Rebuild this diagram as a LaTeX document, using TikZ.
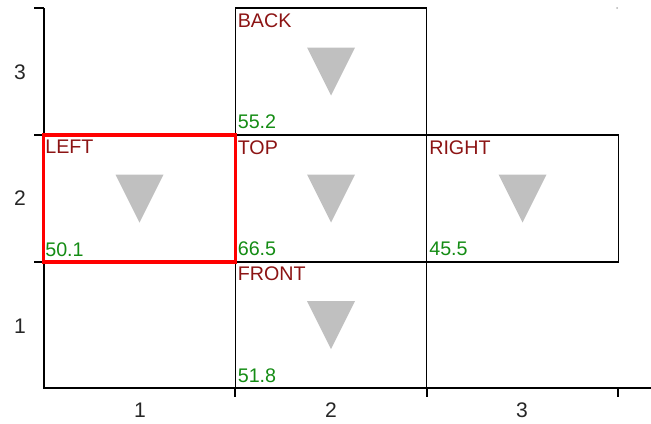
\documentclass[tikz,border=0pt]{standalone}
\usepackage{fontspec}
\setmainfont{Liberation Sans}
\usepackage{tikz}
\usetikzlibrary{calc}

\definecolor{namered}{RGB}{140,20,20}
\definecolor{valgreen}{RGB}{20,140,20}
\definecolor{markgray}{RGB}{192,192,192}

\tikzset{
  face/.style={draw=black, line width=1pt, minimum width=4.7875cm, minimum height=3.175cm, inner sep=0pt},
  facename/.style={text=namered, inner sep=0pt, anchor=north west, font=\fontsize{14}{16}\selectfont},
  faceval/.style={text=valgreen, inner sep=0pt, anchor=base west, font=\fontsize{14}{16}\selectfont},
  ticklab/.style={text=black!85, inner sep=0pt, font=\fontsize{15}{17}\selectfont},
  axis/.style={line width=1pt, black}
}

\begin{document}
\begin{tikzpicture}[x=0.025cm,y=-0.025cm]
\useasboundingbox (0,0) rectangle (651,423);
% axes
\draw[axis] (44,8) coordinate (ytop) -- (44,388) coordinate (orig) -- (651,388) coordinate (xend);
\draw[axis] (34,8) -- (ytop);
\draw[axis] (34,135) -- (44,135);
\draw[axis] (34,262) -- (44,262);
\foreach \x in {235,427,618}
  \draw[axis] (\x,388) -- (\x,397);
\fill[gray!60] (617,8) circle (1);
\node[ticklab] (x1) at (140,410) {1};
\node[ticklab] (x2) at (331,410) {2};
\node[ticklab] (x3) at (522,410) {3};
\node[ticklab] (y3) at (20,72) {3};
\node[ticklab] (y2) at (20,198) {2};
\node[ticklab] (y1) at (20,326) {1};
% faces
\node[face] (back) at (331,71.5) {};
\node[face] (top) at (331,198.5) {};
\node[face] (right) at (522.5,198.5) {};
\node[face] (front) at (331,325) {};
\node[face, draw=red, line width=2.4pt] (left) at (139.5,198.5) {};
\foreach \c in {back,left,top,right,front}
  \fill[markgray] ([shift={(-24,-24)}]\c.center) -- ([shift={(24,-24)}]\c.center) -- ([shift={(0,24)}]\c.center) -- cycle;
\node[facename] (backname) at ([shift={(3,6)}]back.north west) {BACK};
\node[facename] (leftname) at ([shift={(3,6)}]left.north west) {LEFT};
\node[facename] (topname) at ([shift={(3,6)}]top.north west) {TOP};
\node[facename] (rightname) at ([shift={(3,6)}]right.north west) {RIGHT};
\node[facename] (frontname) at ([shift={(3,6)}]front.north west) {FRONT};
\node[faceval] (backval) at ([shift={(3,-7)}]back.south west) {55.2};
\node[faceval] (leftval) at ([shift={(3,-7)}]left.south west) {50.1};
\node[faceval] (topval) at ([shift={(3,-7)}]top.south west) {66.5};
\node[faceval] (rightval) at ([shift={(3,-7)}]right.south west) {45.5};
\node[faceval] (frontval) at ([shift={(3,-7)}]front.south west) {51.8};
\end{tikzpicture}
\end{document}
